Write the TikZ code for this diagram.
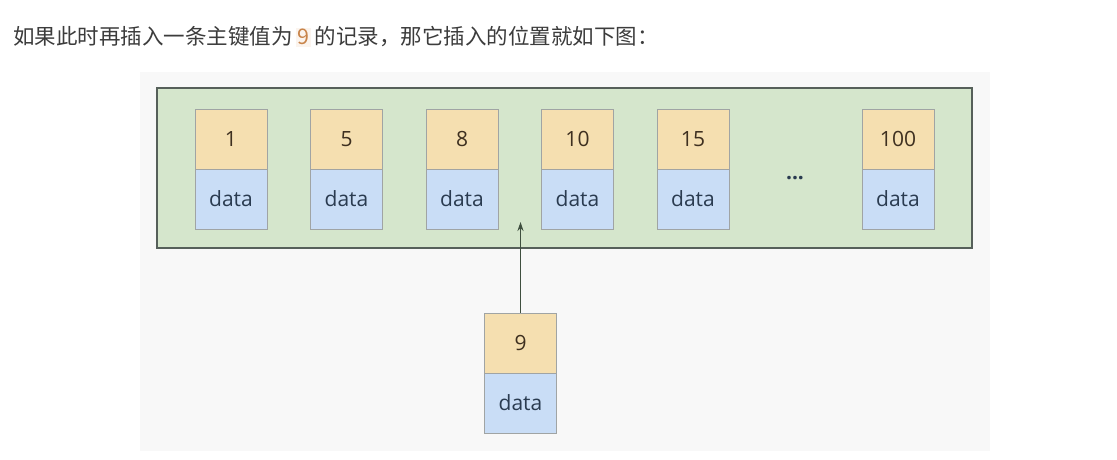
\documentclass[tikz,border=0pt]{standalone}
\usepackage{fontspec}
\newfontfamily\cjk{Noto Sans CJK SC}
\newfontfamily\boxfont{Open Sans}
\usetikzlibrary{arrows.meta}

\definecolor{pagebg}{HTML}{F8F8F8}
\definecolor{pagefill}{HTML}{D5E6CC}
\definecolor{pageline}{HTML}{56605A}
\definecolor{keyfill}{HTML}{F5DFB0}
\definecolor{datafill}{HTML}{C9DDF6}
\definecolor{boxline}{HTML}{A0A4A4}
\definecolor{keytext}{HTML}{3E3020}
\definecolor{datatext}{HTML}{2A3B50}
\definecolor{headtext}{HTML}{3C3C3C}
\definecolor{numorange}{HTML}{C8844A}
\definecolor{numbg}{HTML}{FBF4EE}
\definecolor{arrowcol}{HTML}{3F4F3F}

\begin{document}
\begin{tikzpicture}[x=1pt, y=-1pt, node distance=60pt]
% Styles
\tikzstyle{heading} = [anchor=west, inner sep=0pt, text=headtext, font=\cjk\fontsize{21.5}{24}\selectfont]
\tikzstyle{pagebox} = [rectangle, minimum width=815pt, minimum height=160pt, draw=pageline, line width=1.2pt, fill=pagefill]
\tikzstyle{keybox} = [rectangle, minimum width=72pt, minimum height=60pt, text centered, draw=boxline, fill=keyfill, text=keytext, inner sep=0pt, font=\boxfont\fontsize{21}{24}\selectfont]
\tikzstyle{databox} = [rectangle, minimum width=72pt, minimum height=60pt, text centered, draw=boxline, fill=datafill, text=datatext, inner sep=0pt, font=\boxfont\fontsize{21}{24}\selectfont]
\tikzstyle{arrow} = [line width=1.2pt, draw=arrowcol, -{Stealth[length=9pt, width=6pt]}]

\useasboundingbox (0,0) rectangle (1117,460);
\fill[white] (0,0) rectangle (1117,460);
\fill[pagebg] (140,72) rectangle (990,451);

\node (title) [heading] at (13,37) {如果此时再插入一条主键值为\,{\fboxsep=1.5pt\colorbox{numbg}{\color{numorange}9}}\,的记录，那它插入的位置就如下图：};

\node (page) [pagebox] at (564.5,168) {};

\node (k1) [keybox] at (231,139) {1};
\node (d1) [databox, below of=k1] {data};
\node (k5) [keybox, right of=k1, xshift=55.5pt] {5};
\node (d5) [databox, below of=k5] {data};
\node (k8) [keybox, right of=k5, xshift=55.5pt] {8};
\node (d8) [databox, below of=k8] {data};
\node (k10) [keybox, right of=k8, xshift=55.5pt] {10};
\node (d10) [databox, below of=k10] {data};
\node (k15) [keybox, right of=k10, xshift=55.5pt] {15};
\node (d15) [databox, below of=k15] {data};
\node (k100) [keybox, right of=k15, xshift=145pt] {100};
\node (d100) [databox, below of=k100] {data};
\node (dots) [font=\boxfont\bfseries\fontsize{21}{24}\selectfont, text=datatext] at (795,178) {...};

\node (k9) [keybox] at (520.5,343) {9};
\node (d9) [databox, below of=k9] {data};

\coordinate (slot) at (520.5,222);
\draw [arrow] (k9) -- (slot);

\end{tikzpicture}
\end{document}
